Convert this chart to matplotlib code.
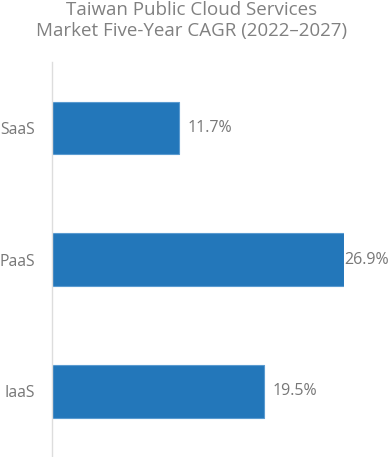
import matplotlib
matplotlib.use("Agg")
import matplotlib.pyplot as plt

# dane
kategorie = ["SaaS", "PaaS", "IaaS"]
cagr = [11.7, 26.9, 19.5]
etykiety = ["11.7%", "26.9%", "19.5%"]

plt.rcParams['font.family'] = ['Open Sans', 'DejaVu Sans']

fig = plt.figure(figsize=(3.88, 4.57), dpi=100)
ax = fig.add_axes([52 / 388, 0, 292 / 388, 1 - 62 / 457])

ax.barh(kategorie, cagr, height=0.4, color='#2377ba', edgecolor='#5a9bd0', linewidth=0.8)
ax.set_ylim(2.5, -0.5)
ax.set_xlim(0, max(cagr))

# etykiety wartości przy słupkach
for i, (v, t) in enumerate(zip(cagr, etykiety)):
    dx = 0.5 if v == max(cagr) else 6.5
    ax.annotate(t, (v, i), xytext=(dx, 0), textcoords='offset points',
                va='center', ha='left', fontsize=11.5, color='#777777',
                annotation_clip=False)

for s in ['top', 'right', 'bottom']:
    ax.spines[s].set_visible(False)
ax.spines['left'].set_color('#dddddd')
ax.spines['left'].set_linewidth(1)
ax.set_xticks([])
ax.tick_params(axis='y', length=0, pad=12, labelsize=11.3, labelcolor='#777777')

fig.text(0.495, 0.997, "Taiwan Public Cloud Services\nMarket Five-Year CAGR (2022–2027)",
         ha='center', va='top', fontsize=13.5, color='#808080', linespacing=1.2)

fig.savefig("out.png", dpi=100)
